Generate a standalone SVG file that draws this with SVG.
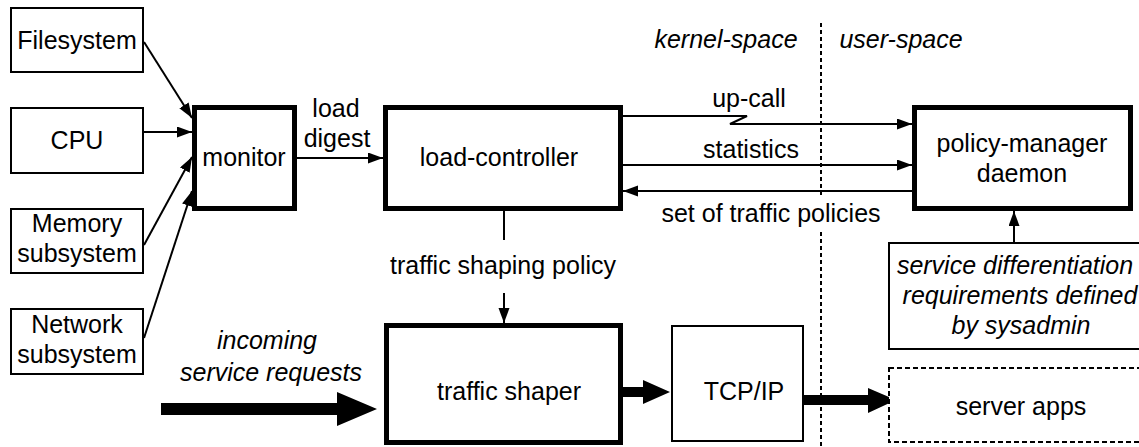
<svg xmlns="http://www.w3.org/2000/svg" width="1139" height="447" viewBox="0 0 1139 447">
<style>
text{font-family:"Liberation Sans",Arial,sans-serif;font-size:25px;fill:#000;text-anchor:middle}
.it{font-style:italic}
.thin{fill:#fff;stroke:#000;stroke-width:2}
.thick{fill:#fff;stroke:#000;stroke-width:5}
.dash{fill:#fff;stroke:#000;stroke-width:2;stroke-dasharray:5 3}
.ln{fill:none;stroke:#000;stroke-width:2}
.arr{fill:none;stroke:#000;stroke-width:2;marker-end:url(#ah)}
</style>
<defs>
<marker id="ah" markerUnits="userSpaceOnUse" markerWidth="16" markerHeight="12" refX="15" refY="5.5" orient="auto">
<path d="M0,0 L15,5.5 L0,11 z" fill="#000"/>
</marker>
</defs>
<g id="divider">
<line x1="821" y1="23" x2="821" y2="195" stroke="#000" stroke-width="2" stroke-dasharray="4 3"/>
<line x1="821" y1="232" x2="821" y2="447" stroke="#000" stroke-width="2" stroke-dasharray="4 3"/>
<text class="it" x="726" y="48">kernel-space</text>
<text class="it" x="901" y="48">user-space</text>
</g>
<g id="connectors">
<line class="arr" x1="144" y1="42" x2="192" y2="118"/>
<line class="arr" x1="144" y1="132" x2="192" y2="132"/>
<line class="arr" x1="144" y1="245" x2="192" y2="157"/>
<line class="arr" x1="144" y1="338" x2="192" y2="191"/>
<line class="arr" x1="297" y1="158" x2="383" y2="158"/>
<text x="336" y="117">load</text>
<text x="337" y="147">digest</text>
<polyline class="arr" points="623,116 747,116 730,124 912,124"/>
<text x="749" y="107">up-call</text>
<line class="arr" x1="623" y1="165" x2="912" y2="165"/>
<text x="751" y="158">statistics</text>
<line class="arr" x1="912" y1="191" x2="623" y2="191"/>
<text x="771" y="222">set of traffic policies</text>
<line class="ln" x1="504" y1="211" x2="504" y2="240"/>
<text x="503" y="274">traffic shaping policy</text>
<line class="arr" x1="504" y1="293" x2="504" y2="323"/>
<line class="arr" x1="1014" y1="242" x2="1014" y2="211"/>
<path d="M161,403 H337 V392 L377,409 L337,426 V415 H161 z" fill="#000"/>
<text class="it" x="267" y="349">incoming</text>
<text class="it" x="271" y="381">service requests</text>
<path d="M623,387 H643 V380 L670,392 L643,404 V397 H623 z" fill="#000"/>
<path d="M804,395 H868 V388 L896,400 L868,413 V405 H804 z" fill="#000"/>
</g>
<g id="filesystem">
<rect class="thin" x="11" y="8" width="132" height="64"/>
<text x="77" y="49">Filesystem</text>
</g>
<g id="cpu">
<rect class="thin" x="11" y="108" width="132" height="65"/>
<text x="77" y="149">CPU</text>
</g>
<g id="memory">
<rect class="thin" x="11" y="209" width="132" height="64"/>
<text x="77" y="232">Memory</text>
<text x="77" y="262">subsystem</text>
</g>
<g id="network">
<rect class="thin" x="11" y="309" width="132" height="65"/>
<text x="77" y="333">Network</text>
<text x="77" y="363">subsystem</text>
</g>
<g id="monitor">
<rect class="thick" x="194.5" y="107.5" width="100" height="101"/>
<text x="244" y="166">monitor</text>
</g>
<g id="load-controller">
<rect class="thick" x="385.5" y="107.5" width="235" height="101"/>
<text x="499" y="166">load-controller</text>
</g>
<g id="policy-manager">
<rect class="thick" x="914.5" y="107.5" width="216" height="101"/>
<text x="1022" y="152">policy-manager</text>
<text x="1022" y="182">daemon</text>
</g>
<g id="requirements">
<rect class="thin" x="889" y="243" width="260" height="106"/>
<text class="it" x="1015" y="274">service differentiation</text>
<text class="it" x="1020" y="304">requirements defined</text>
<text class="it" x="1021" y="334">by sysadmin</text>
</g>
<g id="traffic-shaper">
<rect class="thick" x="386.5" y="325.5" width="234" height="117"/>
<text x="509" y="400">traffic shaper</text>
</g>
<g id="tcpip">
<rect class="thin" x="672" y="326" width="131" height="115"/>
<text x="744" y="400">TCP/IP</text>
</g>
<g id="server-apps">
<rect class="dash" x="889" y="368" width="260" height="74"/>
<text x="1021" y="415">server apps</text>
</g>
</svg>
